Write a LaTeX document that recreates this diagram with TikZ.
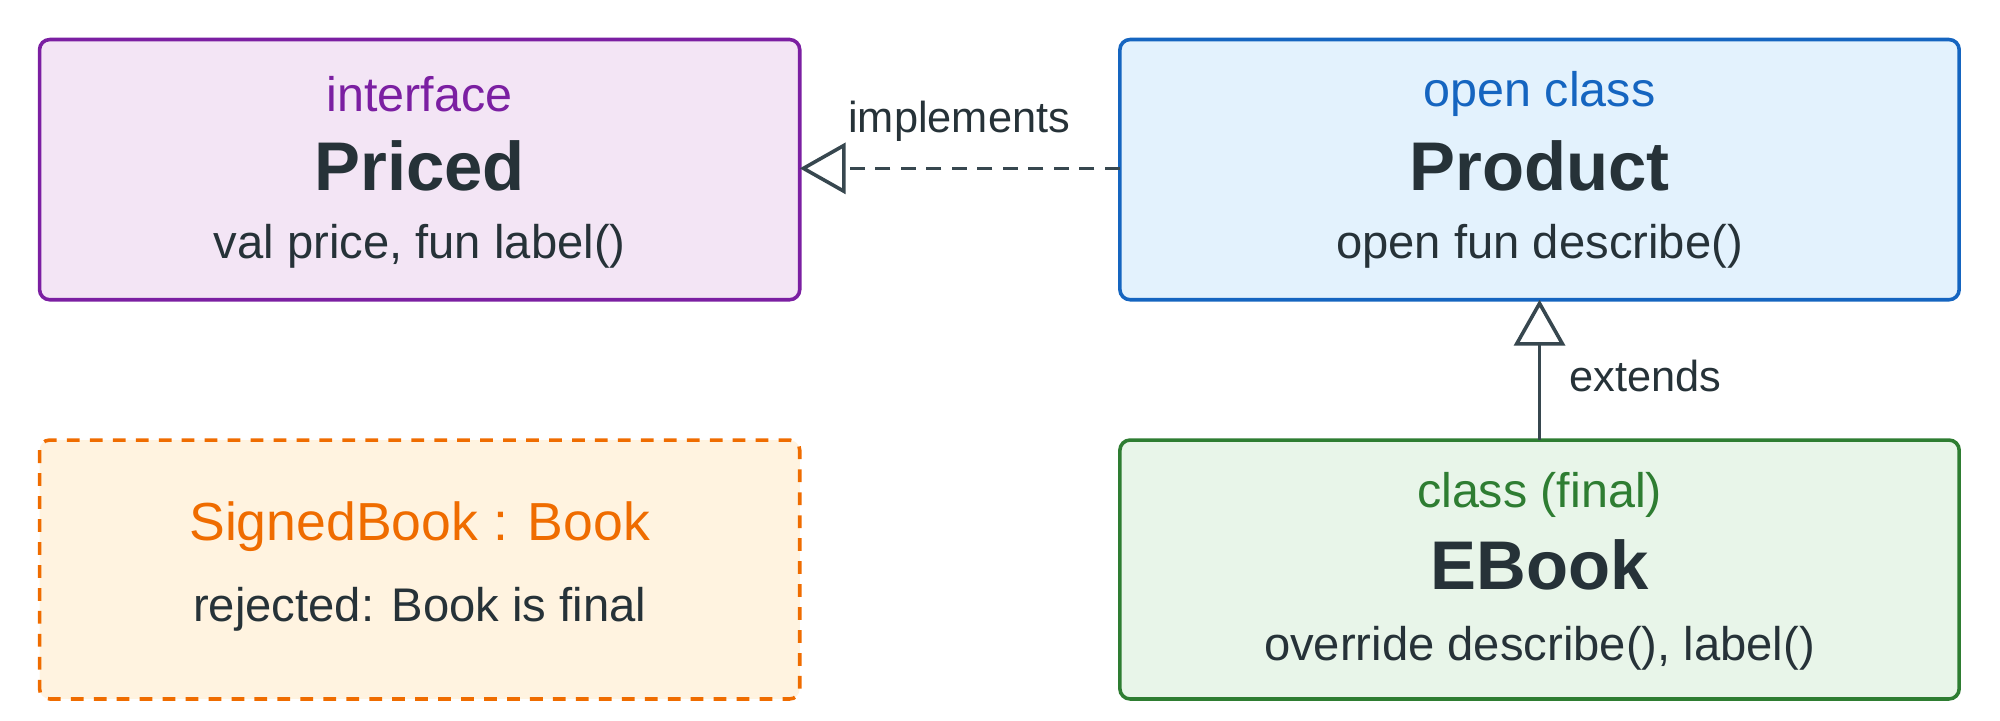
\documentclass[tikz,border=0pt]{standalone}
\usepackage{fontspec}
\setmainfont{Liberation Sans}
\usetikzlibrary{arrows.meta}
\definecolor{ink}{HTML}{263238}
\definecolor{edge}{HTML}{37474F}
\definecolor{pB}{HTML}{7B1FA2}\definecolor{pF}{HTML}{F3E5F5}
\definecolor{bB}{HTML}{1565C0}\definecolor{bF}{HTML}{E3F2FD}
\definecolor{oB}{HTML}{EF6C00}\definecolor{oF}{HTML}{FFF3E0}
\definecolor{gB}{HTML}{2E7D32}\definecolor{gF}{HTML}{E8F5E9}
\begin{document}
\begin{tikzpicture}[x=0.5pt,y=-0.5pt,
  box/.style={rounded corners=4pt,line width=1.4pt},
  kind/.style={font=\fontsize{19}{22}\selectfont},
  title/.style={font=\fontsize{27}{30}\selectfont\bfseries,text=ink},
  body/.style={font=\fontsize{18.5}{21}\selectfont,text=ink},
  lbl/.style={font=\fontsize{17}{20}\selectfont,text=ink},
  inh/.style={draw=edge,line width=1.4pt,-{Triangle[open,length=18pt,width=20pt,fill=white]}}]
\useasboundingbox (0,0) rectangle (1568,565);
\draw[box,draw=pB,fill=pF] (31,31) rectangle (627,235);
\coordinate (pr) at (627,132);
\node[kind,text=pB] (pk) at (329,74) {interface};
\node[title] (pt) at (329,130) {Priced};
\node[body] (pb) at (329,193) {val price, fun label()};
\draw[box,draw=bB,fill=bF] (878,31) rectangle (1536,235);
\coordinate (pl) at (878,132);
\coordinate (pbot) at (1207,235);
\node[kind,text=bB] (bk) at (1207,74) {open class};
\node[title] (bt) at (1207,130) {Product};
\node[body] (bb) at (1207,193) {open fun describe()};
\draw[box,draw=oB,fill=oF,dashed,dash pattern=on 5pt off 4pt] (31,345) rectangle (627,548);
\node[kind,text=oB,font=\fontsize{21}{24}\selectfont] (ok) at (329,413) {SignedBook : Book};
\node[body] (ob) at (329,478) {rejected: Book is final};
\draw[box,draw=gB,fill=gF] (878,345) rectangle (1536,548);
\coordinate (etop) at (1207,345);
\node[kind,text=gB] (gk) at (1207,388) {class (final)};
\node[title] (gt) at (1207,443) {EBook};
\node[body] (gb) at (1207,508) {override describe(), label()};
\draw[inh,dashed,dash pattern=on 6pt off 4pt] (pl) -- (pr);
\node[lbl] (l1) at (752,95) {implements};
\draw[inh] (etop) -- (pbot);
\node[lbl] (l2) at (1290,295) {extends};
\end{tikzpicture}
\end{document}
